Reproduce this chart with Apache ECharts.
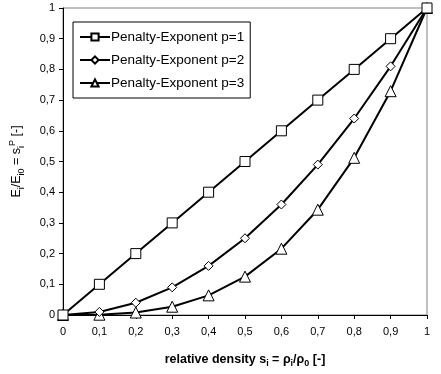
<!DOCTYPE html>
<html><head><meta charset="utf-8">
<script src="https://cdn.jsdelivr.net/npm/echarts@6/dist/echarts.min.js"></script>
<style>html,body{margin:0;padding:0;background:#fff}#c{width:441px;height:374px}</style>
</head><body><div id="c"></div>
<script>
var densities = [0, 0.1, 0.2, 0.3, 0.4, 0.5, 0.6, 0.7, 0.8, 0.9, 1];
var p1 = [0, 0.1, 0.2, 0.3, 0.4, 0.5, 0.6, 0.7, 0.8, 0.9, 1];
var p2 = [0, 0.01, 0.04, 0.09, 0.16, 0.25, 0.36, 0.49, 0.64, 0.81, 1];
var p3 = [0, 0.001, 0.008, 0.027, 0.064, 0.125, 0.216, 0.343, 0.512, 0.729, 1];
var seriesNames = ['Penalty-Exponent p=1', 'Penalty-Exponent p=2', 'Penalty-Exponent p=3'];
var symbols = ['rect', 'diamond', 'triangle'];
var sizes = [10, 9, 11];

function pairs(arr){ return densities.map(function(x,i){ return [x, arr[i]]; }); }
var datas = [p1, p2, p3];
var font = 'Liberation Sans';
var chart = echarts.init(document.getElementById('c'));
chart.setOption({
  animation: false,
  backgroundColor: '#fff',
  grid: { left: 52, right: 14, top: 8, bottom: 59, show: true, borderColor: '#808080', borderWidth: 1 },
  legend: {
    left: 73, top: 22, orient: 'vertical',
    padding: [8, 6, 8, 6], itemGap: 9,
    borderColor: '#000', borderWidth: 1, backgroundColor: '#fff',
    itemWidth: 30, itemHeight: 9,
    textStyle: { fontFamily: font, fontSize: 13.5, color: '#000', padding: [0,0,0,-4] },
    data: seriesNames
  },
  xAxis: {
    type: 'value', min: 0, max: 1, interval: 0.1,
    axisLine: { lineStyle: { color: '#000', width: 1 } },
    axisTick: { show: true, length: 4, lineStyle: { color: '#000' } },
    splitLine: { show: false },
    axisLabel: { fontFamily: font, fontSize: 11, color: '#000', margin: 11,
      formatter: function(v){ return String(Math.round(v*10)/10).replace('.', ','); } },
    name: '{b|relative density s}{bs|i}{b| = ρ}{bs|i}{b|/ρ}{bs|0}{b| [-]}',
    nameLocation: 'middle', nameGap: 37,
    nameTextStyle: { fontFamily: font, color: '#000',
      rich: { b: { fontFamily: font, fontSize: 12.5, fontWeight: 'bold', color: '#000', lineHeight: 16, verticalAlign: 'middle' },
              bs: { fontFamily: font, fontSize: 9, fontWeight: 'bold', color: '#000', lineHeight: 16, verticalAlign: 'bottom' } } }
  },
  yAxis: {
    type: 'value', min: 0, max: 1, interval: 0.1,
    axisLine: { lineStyle: { color: '#000', width: 1 } },
    axisTick: { show: true, length: 4, lineStyle: { color: '#000' } },
    splitLine: { show: false },
    axisLabel: { fontFamily: font, fontSize: 11, color: '#000', margin: 8,
      formatter: function(v){ return String(Math.round(v*10)/10).replace('.', ','); } },
    name: '{n|E}{s|i}{n|/E}{s|i0}{n| = s}{s|i}{p|P}{n| [-]}',
    nameLocation: 'middle', nameGap: 37,
    nameTextStyle: { fontFamily: font, color: '#000',
      rich: { n: { fontFamily: font, fontSize: 12.5, color: '#000', lineHeight: 18, verticalAlign: 'middle' },
              s: { fontFamily: font, fontSize: 9, color: '#000', lineHeight: 18, verticalAlign: 'bottom' },
              p: { fontFamily: font, fontSize: 9, color: '#000', lineHeight: 18, verticalAlign: 'top' } } }
  },
  series: datas.map(function(d,i){
    return {
      name: seriesNames[i], type: 'line', data: pairs(d),
      symbol: symbols[i], symbolSize: sizes[i], showAllSymbol: true,
      lineStyle: { color: '#000', width: 2 },
      itemStyle: { color: '#fff', borderColor: '#000', borderWidth: 1 },
      z: 3 - i
    };
  })
});
</script></body></html>
